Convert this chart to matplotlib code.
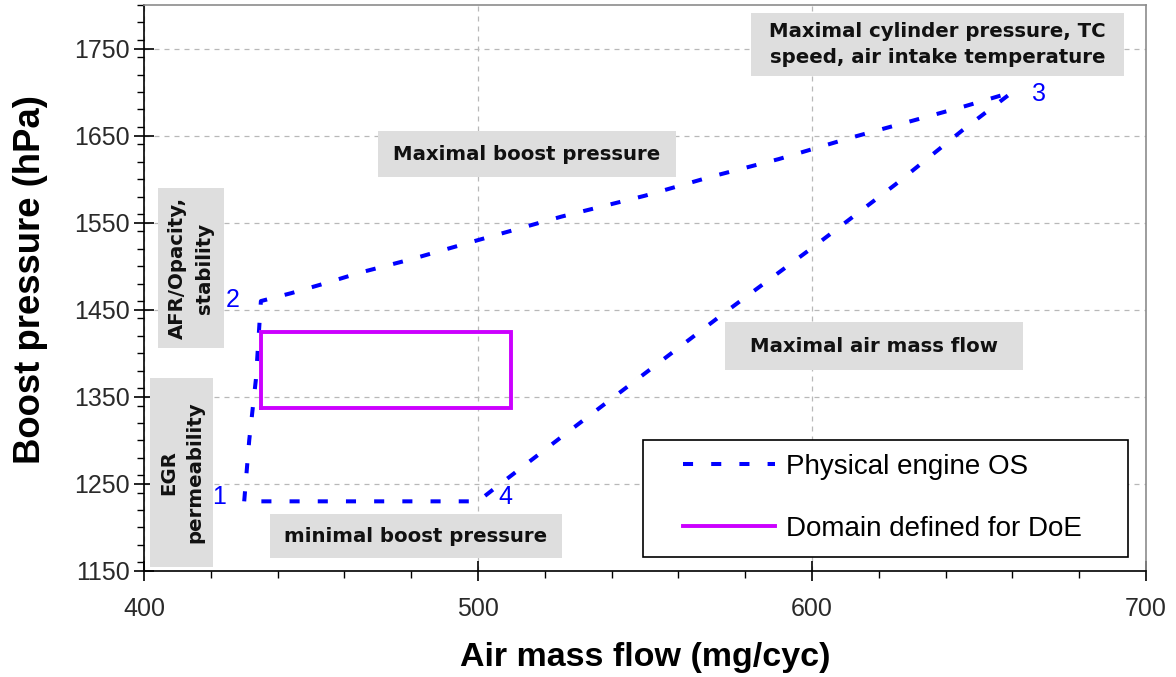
import matplotlib
matplotlib.use("Agg")
import matplotlib.pyplot as plt
from matplotlib.patches import Rectangle
from matplotlib.ticker import MultipleLocator

# ---- data ----
os_x = [430, 431.5, 433.5, 435, 444, 453, 465, 480, 500, 525, 550, 570, 590, 612, 630, 646, 660, 645, 625, 600, 575, 550, 525, 505, 500, 470, 430]
os_y = [1230, 1300, 1370, 1460, 1469, 1479, 1493, 1508, 1530, 1557, 1581, 1603, 1623, 1648, 1667, 1684, 1700, 1656, 1594, 1521, 1450, 1377, 1304, 1245, 1230, 1230, 1230]
doe_x = [435, 510, 510, 435, 435]
doe_y = [1337, 1337, 1425, 1425, 1337]
corner_labels = ["1", "2", "3", "4"]
corner_x = [430, 435, 660, 500]
corner_y = [1230, 1460, 1700, 1230]
series_names = ["Physical engine OS", "Domain defined for DoE"]
x_ticks = [400, 500, 600, 700]
y_ticks = [1150, 1250, 1350, 1450, 1550, 1650, 1750]

W, H = 1176, 677
fig = plt.figure(figsize=(W / 100, H / 100), dpi=100)
L, R, T, B = 144, 1146, 5, 571
ax = fig.add_axes([L / W, 1 - B / H, (R - L) / W, (B - T) / H])

ax.set_xlim(400, 700)
ax.set_ylim(1150, 1800)
ax.set_xticks(x_ticks)
ax.set_yticks(y_ticks)
ax.xaxis.set_minor_locator(MultipleLocator(20))
ax.yaxis.set_minor_locator(MultipleLocator(20))
ax.tick_params(which="major", direction="inout", length=14, width=1.2,
               labelsize=18, labelcolor="#2a2a2a")
ax.tick_params(which="minor", direction="out", length=5, width=1.0)
ax.tick_params(axis="x", which="major", pad=12)
ax.tick_params(axis="y", which="major", pad=3)
for lab in ax.get_xticklabels() + ax.get_yticklabels():
    lab.set_fontfamily("Liberation Sans")

ax.grid(True, which="major", color="#b8b8b8", linestyle=(0, (4, 4)), linewidth=0.9)
ax.set_axisbelow(True)
for s in ["top", "right"]:
    ax.spines[s].set_color("#8c8c8c")
    ax.spines[s].set_linewidth(1.2)
for s in ["left", "bottom"]:
    ax.spines[s].set_color("black")
    ax.spines[s].set_linewidth(1.2)

# annotation boxes (pixel positions -> axes fraction)
def px2ax(px, py):
    return (px - L) / (R - L), (B - py) / (B - T)

boxes = [
    (751, 13, 1124, 76, "Maximal cylinder pressure, TC\nspeed, air intake temperature", 0),
    (378, 131, 676, 177, "Maximal boost pressure", 0),
    (158, 188, 224, 348, "AFR/Opacity,\nstability", 90),
    (150, 378, 213, 567, "EGR\npermeability", 90),
    (270, 514, 562, 558, "minimal boost pressure", 0),
    (725, 322, 1023, 370, "Maximal air mass flow", 0),
]
for x0, y0, x1, y1, txt, rot in boxes:
    ax0, ay1 = px2ax(x0, y0)
    ax1, ay0 = px2ax(x1, y1)
    ax.add_patch(Rectangle((ax0, ay0), ax1 - ax0, ay1 - ay0, transform=ax.transAxes,
                           facecolor="#dedede", edgecolor="none", zorder=1.5))
    ax.text((ax0 + ax1) / 2, (ay0 + ay1) / 2, txt, transform=ax.transAxes,
            ha="center", va="center", rotation=rot, fontsize=14.2,
            fontweight="bold", family="DejaVu Sans", color="#111111",
            linespacing=1.5, zorder=3)

ax.plot(os_x, os_y, color="#0000ff", linewidth=2.9, linestyle=(0, (2.5, 4.5)),
        label=series_names[0], zorder=4, dash_capstyle="butt")
ax.plot(doe_x, doe_y, color="#cc00ff", linewidth=2.8, linestyle="-",
        label=series_names[1], zorder=4, solid_joinstyle="miter")

offsets = [(-25, 4), (-28, 1), (27, -2), (27, 4)]
for lab, cx, cy, (dx, dy) in zip(corner_labels, corner_x, corner_y, offsets):
    ax.annotate(lab, (cx, cy), xytext=(dx * 0.72, dy * 0.72), textcoords="offset points",
                ha="center", va="center", color="#0000ff", fontsize=18,
                family="Liberation Sans", zorder=5)

# legend frame drawn as a box, legend entries on top
lx0, ly1 = px2ax(643, 440)
lx1, ly0 = px2ax(1128, 557)
ax.add_patch(Rectangle((lx0, ly0), lx1 - lx0, ly1 - ly0, transform=ax.transAxes,
                       facecolor="white", edgecolor="black", linewidth=1.2, zorder=4.6))
leg = ax.legend(loc="upper left", bbox_to_anchor=px2ax(683, 454),
                frameon=False, prop={"family": "Liberation Sans", "size": 20},
                handlelength=3.3, handletextpad=0.42, borderpad=0,
                labelspacing=1.3, borderaxespad=0)
leg.set_zorder(6)

ax.set_xlabel("Air mass flow (mg/cyc)", fontsize=24.5, fontweight="bold",
              family="Liberation Sans", labelpad=15)
ax.set_ylabel("Boost pressure (hPa)", fontsize=26.3, fontweight="bold",
              family="Liberation Sans", labelpad=20)
ax.yaxis.set_label_coords((48 - L) / (R - L), (B - 280) / (B - T))

fig.savefig("out.png", dpi=100)
